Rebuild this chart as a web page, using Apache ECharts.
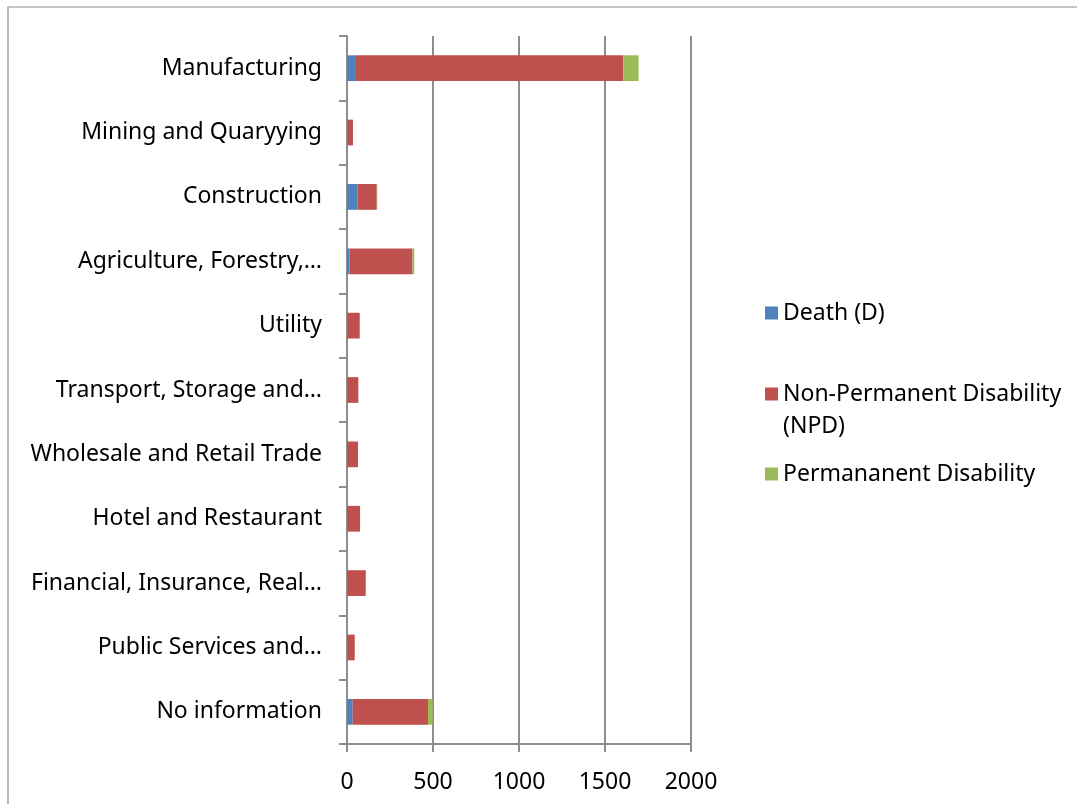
<!DOCTYPE html>
<html>
<head>
<meta charset="utf-8">
<script src="https://cdn.jsdelivr.net/npm/echarts@6/dist/echarts.min.js"></script>
<style>
html,body{margin:0;padding:0;background:#fff;}
#chart{width:1077px;height:804px;}
</style>
</head>
<body>
<div id="chart"></div>
<script>
const categories = [
  "Manufacturing",
  "Mining and Quaryying",
  "Construction",
  "Agriculture, Forestry,…",
  "Utility",
  "Transport, Storage and…",
  "Wholesale and Retail Trade",
  "Hotel and Restaurant",
  "Financial, Insurance, Real…",
  "Public Services and…",
  "No information"
];
const deathValues = [47, 2, 62, 15, 4, 4, 1, 1, 2, 2, 33];
const npdValues = [1560, 33, 111, 366, 70, 62, 63, 75, 107, 43, 438];
const pdValues = [88, 0, 3, 10, 0, 0, 0, 0, 0, 0, 27];
const seriesNames = ["Death (D)", "Non-Permanent Disability (NPD)", "Permananent Disability"];
const xTicks = [0, 500, 1000, 1500, 2000];

const FONT = "Noto Sans";
const FS = 23;
const GRAY = "#8e8e8e";
const chart = echarts.init(document.getElementById('chart'), null, {renderer: 'canvas'});

function legendAt(name, top, formatter) {
  return {
    orient: 'vertical',
    left: 760,
    top: top,
    icon: 'rect',
    itemWidth: 13,
    itemHeight: 13,
    itemGap: 0,
    data: [name],
    formatter: formatter,
    textStyle: {fontFamily: FONT, fontSize: FS, color: '#000', lineHeight: 32},
    selectedMode: false
  };
}

const option = {
  backgroundColor: '#fff',
  animation: false,
  color: ['#4F81BD', '#C0504D', '#9BBB59'],
  grid: {left: 347, right: 386, top: 36, bottom: 60, containLabel: false},
  xAxis: {
    type: 'value',
    min: xTicks[0],
    max: xTicks[xTicks.length - 1],
    interval: 500,
    axisLine: {show: true, lineStyle: {color: GRAY, width: 2}},
    axisTick: {show: true, length: 8, lineStyle: {color: GRAY, width: 2}},
    axisLabel: {margin: 27, fontFamily: FONT, fontSize: FS, color: '#000', formatter: function(v){ return String(v); }},
    splitLine: {show: true, lineStyle: {color: GRAY, width: 2}}
  },
  yAxis: {
    type: 'category',
    inverse: true,
    data: categories,
    axisLine: {show: true, lineStyle: {color: GRAY, width: 2}},
    axisTick: {show: true, length: 8, alignWithLabel: false, lineStyle: {color: GRAY, width: 2}},
    axisLabel: {margin: 25, fontFamily: FONT, fontSize: FS, color: '#000'},
    splitLine: {show: false}
  },
  legend: [
    legendAt(seriesNames[0], 292),
    legendAt(seriesNames[1], 341, function(){ return '\nNon-Permanent Disability\n(NPD)'; }),
    legendAt(seriesNames[2], 453)
  ],
  graphic: [{
    type: 'rect',
    shape: {x: 8, y: 7, width: 1200, height: 900},
    style: {fill: 'none', stroke: '#8a8a8a', lineWidth: 1.2},
    silent: true
  }],
  series: [
    {name: seriesNames[0], type: 'bar', stack: 'total', barWidth: '40%', data: deathValues},
    {name: seriesNames[1], type: 'bar', stack: 'total', barWidth: '40%', data: npdValues},
    {name: seriesNames[2], type: 'bar', stack: 'total', barWidth: '40%', data: pdValues}
  ]
};
chart.setOption(option);
</script>
</body>
</html>
